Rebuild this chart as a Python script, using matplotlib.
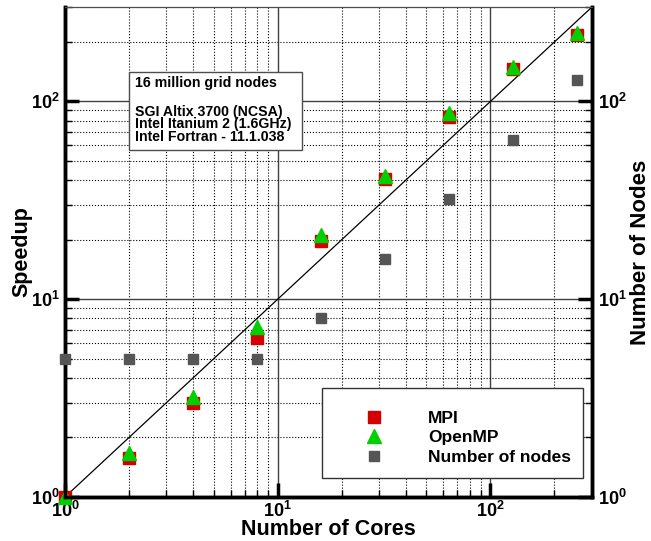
import math
import matplotlib
matplotlib.use("Agg")
import matplotlib.pyplot as plt
from matplotlib.patches import Rectangle
from matplotlib.ticker import LogLocator, FuncFormatter, NullFormatter

plt.rcParams['font.family'] = ['Liberation Sans', 'DejaVu Sans']
plt.rcParams['font.weight'] = 'bold'
plt.rcParams['mathtext.fontset'] = 'custom'
plt.rcParams['mathtext.rm'] = 'Liberation Sans:bold'
plt.rcParams['mathtext.bf'] = 'Liberation Sans:bold'

# scaling data
cores = [1, 2, 4, 8, 16, 32, 64, 128, 256]
speedup_mpi = [1.0, 1.57, 3.0, 6.35, 19.8, 40.3, 83, 145, 216]
speedup_omp = [1.0, 1.67, 3.2, 7.25, 21.0, 42.2, 87, 150, 221]
nodes = [5, 5, 5, 5, 8, 16, 32, 64, 128]
ideal = [1, 300]

info_title = '16 million grid nodes'
info_lines = ['SGI Altix 3700 (NCSA)', 'Intel Itanium 2 (1.6GHz)', 'Intel Fortran - 11.1.038']

red = '#d40000'
green = '#00d000'
gray = '#555555'

fig = plt.figure(figsize=(6.51, 5.41), dpi=100)
ax = fig.add_axes([0.0998, 0.0813, 0.8095, 0.9057])
ax2 = ax.twinx()

for a in (ax, ax2):
    a.set_xscale('log')
    a.set_yscale('log')
    a.set_xlim(1, 300)
    a.set_ylim(1, 300)

fmt = FuncFormatter(lambda v, p: r'$\mathbf{10^{%d}}$' % round(math.log10(v)))

# grid
ax.grid(which='major', color='0.25', linestyle='-', linewidth=1.0)
ax.grid(which='minor', color='black', linestyle=':', linewidth=0.8)
ax.set_axisbelow(True)

ax.plot(ideal, ideal, color='black', linewidth=0.9, zorder=2)
h1, = ax.plot(cores, speedup_mpi, 's', color=red, markersize=8, label='MPI', zorder=3, clip_on=False)
h2, = ax.plot(cores, speedup_omp, '^', color=green, markersize=9.5, label='OpenMP', zorder=4, clip_on=False)
h3, = ax2.plot(cores, nodes, 's', color=gray, markersize=7, label='Number of nodes', zorder=3,
               clip_on=False)

for a in (ax, ax2):
    a.xaxis.set_major_locator(LogLocator(base=10))
    a.xaxis.set_minor_locator(LogLocator(base=10, subs=range(2, 10)))
    a.yaxis.set_major_locator(LogLocator(base=10))
    a.yaxis.set_minor_locator(LogLocator(base=10, subs=range(2, 10)))
    a.xaxis.set_major_formatter(fmt)
    a.yaxis.set_major_formatter(fmt)
    a.xaxis.set_minor_formatter(NullFormatter())
    a.yaxis.set_minor_formatter(NullFormatter())

ax.tick_params(which='major', direction='in', length=10, width=2.5, labelsize=13,
               top=False, right=False, pad=4)
ax.tick_params(axis='x', which='major', pad=3)
ax.tick_params(which='minor', direction='in', length=5, width=1, top=False, right=False)
ax2.tick_params(which='major', direction='in', length=10, width=2.5, labelsize=13, pad=4)
ax2.tick_params(which='minor', direction='in', length=5, width=1)

for a in (ax, ax2):
    for s in ('left', 'right', 'bottom'):
        a.spines[s].set_linewidth(2.5)
    a.spines['top'].set_linewidth(0.8)
    a.spines['top'].set_color('0.3')

ax.set_xlabel('Number of Cores', fontsize=15.5, fontweight='bold', labelpad=-2)
ax.set_ylabel('Speedup', fontsize=15.5, fontweight='bold', labelpad=-1)
ax2.set_ylabel('Number of Nodes', fontsize=16, fontweight='bold', labelpad=3)

# info box
ax2.add_patch(Rectangle((0.1214, 0.708), 0.3283, 0.159, transform=ax.transAxes,
                        facecolor='white', edgecolor='0.3', linewidth=1, zorder=6))
ax2.text(0.133, 0.845, info_title, transform=ax.transAxes, ha='left', va='center',
         fontsize=10.2, fontweight='bold', zorder=7)
for i, line in enumerate(info_lines):
    ax2.text(0.133, 0.786 - i * 0.0255, line, transform=ax.transAxes, ha='left', va='center',
             fontsize=10.2, fontweight='bold', zorder=7)

# legend
ax2.add_patch(Rectangle((0.4877, 0.0388), 0.4953, 0.1837, transform=ax.transAxes,
                        facecolor='white', edgecolor='0.2', linewidth=1, zorder=8))
leg = ax2.legend(handles=[h1, h2, h3], loc='center left', bbox_to_anchor=(0.4877, 0.121),
                 frameon=False, prop={'weight': 'bold', 'size': 12.5},
                 handletextpad=1.0, borderpad=0.9, labelspacing=0.25, handlelength=4.2,
                 borderaxespad=0)
leg.set_zorder(10)

fig.savefig('out.png', dpi=100)
